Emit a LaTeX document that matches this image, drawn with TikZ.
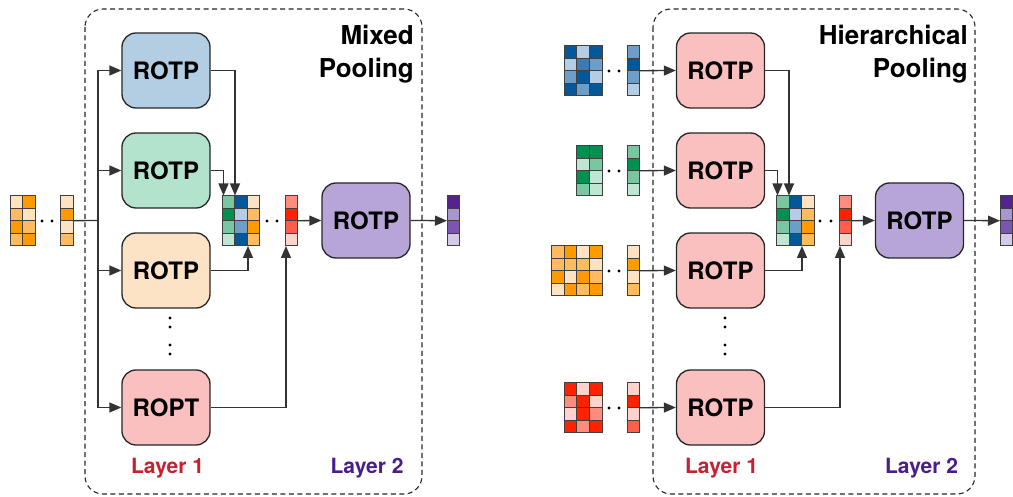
\documentclass[tikz,border=0pt]{standalone}
\usepackage{fontspec}
\setmainfont{TeX Gyre Heros}
\usetikzlibrary{arrows.meta}
\definecolor{cblue}{HTML}{B3CDE3}
\definecolor{cgreen}{HTML}{B3E2CD}
\definecolor{cpeach}{HTML}{FDE3C5}
\definecolor{cpink}{HTML}{FABFBF}
\definecolor{cpurple}{HTML}{B8A5D8}
\definecolor{O1}{HTML}{FEE3C3}
\definecolor{O2}{HTML}{FFBB5E}
\definecolor{O3}{HTML}{FF9A00}
\definecolor{G1}{HTML}{BFE5D3}
\definecolor{G2}{HTML}{78C7A0}
\definecolor{G3}{HTML}{00904F}
\definecolor{B1}{HTML}{B5CDE4}
\definecolor{B2}{HTML}{6D9ECA}
\definecolor{B3}{HTML}{3A7CB8}
\definecolor{B4}{HTML}{04589A}
\definecolor{R1}{HTML}{FFD3CC}
\definecolor{R2}{HTML}{FF8C7C}
\definecolor{R3}{HTML}{FF5E4A}
\definecolor{R4}{HTML}{FF2200}
\definecolor{P1}{HTML}{D5C9E8}
\definecolor{P2}{HTML}{A896D0}
\definecolor{P3}{HTML}{7B55B2}
\definecolor{P4}{HTML}{54238E}
\definecolor{linec}{HTML}{333333}
\definecolor{layred}{HTML}{C8202F}
\definecolor{laypurple}{HTML}{4A1D8C}
\newcommand\cw{12.6}
\newcommand\ch{12.6}
% name, x, y (top-left), ncols, colours row-major (4 rows)
\newcommand\drawmat[5]{%
  \node[inner sep=0pt, outer sep=0pt, minimum width={#4*\cw pt}, minimum height={4*\ch pt}, anchor=north west] (#1) at (#2,#3) {};
  \foreach \col [count=\k from 0] in {#5} {
    \pgfmathtruncatemacro\cx{mod(\k,#4)}
    \pgfmathtruncatemacro\cy{floor(\k/#4)}
    \filldraw[fill=\col, draw=black!75, line width=0.9pt] ({#2+\cx*\cw},{#3+\cy*\ch}) rectangle ++(\cw,\ch);
  }
}
\tikzset{
  box/.style={draw=black!85, line width=1.3pt, rounded corners=14pt, minimum width=88pt, minimum height=75pt, inner sep=0pt, font=\bfseries\fontsize{24}{28}\selectfont},
  conn/.style={draw=linec, line width=1.3pt},
  arr/.style={conn, -{Triangle[length=12pt,width=10pt]}},
  dotc/.style={fill=black, circle, inner sep=0pt, minimum size=3.3pt},
  title/.style={anchor=north east, align=right, inner sep=0pt, font=\bfseries\fontsize{26}{33}\selectfont},
  layer/.style={anchor=base, font=\bfseries\fontsize{21}{24}\selectfont, inner sep=0pt},
  panel/.style={draw=black!85, line width=1.1pt, dash pattern=on 5pt off 3.5pt, rounded corners=18pt}
}
\begin{document}
\begin{tikzpicture}[x=1pt,y=-1pt]
\useasboundingbox (0,0) rectangle (1013,497);
% ---------------- left panel ----------------
\draw[panel] (85,9) rectangle (422,494);
\node[title] (t1) at (414,25) {Mixed\\Pooling};
\node[box, fill=cblue] (a1) at (166,70.5) {ROTP};
\node[box, fill=cgreen] (a2) at (166,170.5) {ROTP};
\node[box, fill=cpeach] (a3) at (166,270.5) {ROTP};
\node[box, fill=cpink] (a4) at (166,407.5) {ROPT};
\node[box, fill=cpurple] (a5) at (366,220.5) {ROTP};
\node[dotc] (v1) at (170,318) {};
\node[dotc] (v2) at (170,327) {};
\node[dotc] (v3) at (170,345) {};
\node[dotc] (v3b) at (170,354) {};
\node[layer, text=layred] (l1) at (167.5,473.5) {Layer 1};
\node[layer, text=laypurple] (l2) at (367,473.5) {Layer 2};
\drawmat{in0}{10}{195.5}{2}{O1,O3,O2,O1,O3,O2,O2,O3}
\node[dotc] (d1) at (42,221) {};
\node[dotc] (d2) at (52,221) {};
\drawmat{ic0}{60.5}{195.5}{1}{O1,O3,O1,O2}
\coordinate (tr0) at (98,220.5);
\coordinate (tr1) at (98,70.5);
\coordinate (tr2) at (98,170.5);
\coordinate (tr3) at (98,270.5);
\coordinate (tr4) at (98,407.5);
\draw[conn] (ic0.east) -- (tr0);
\draw[conn] (tr1) -- (tr4);
\draw[arr] (tr1) -- (a1.west);
\draw[arr] (tr2) -- (a2.west);
\draw[arr] (tr3) -- (a3.west);
\draw[arr] (tr4) -- (a4.west);
\drawmat{m1}{222}{195.5}{3}{G2,B4,O1,G3,B1,O2,G2,B2,O3,G1,B4,O2}
\node[dotc] (d3) at (267,221) {};
\node[dotc] (d4) at (277,221) {};
\drawmat{c1}{285}{195.5}{1}{R2,R4,R3,R1}
\drawmat{o1}{447}{195.5}{1}{P4,P2,P3,P1}
\coordinate (m1a) at (223.5,195.5);
\coordinate (m1b) at (235,195.5);
\coordinate (m1c) at (248,246);
\coordinate (c1a) at (286,246);
\draw[arr] (a1.east) -| (m1b);
\draw[arr] (a2.east) -| (m1a);
\draw[arr] (a3.east) -| (m1c);
\draw[arr] (a4.east) -| (c1a);
\draw[arr] (c1.east) -- (a5.west);
\draw[arr] (a5.east) -- (o1.west);
% ---------------- right panel ----------------
\draw[panel] (653,9) rectangle (975,494);
\node[title] (t2) at (968,25) {Hierarchical\\Pooling};
\node[box, fill=cpink] (b1) at (720.5,70.5) {ROTP};
\node[box, fill=cpink] (b2) at (720.5,170.5) {ROTP};
\node[box, fill=cpink] (b3) at (720.5,270.5) {ROTP};
\node[box, fill=cpink] (b4) at (720.5,407.5) {ROTP};
\node[box, fill=cpurple] (b5) at (919.5,220.5) {ROTP};
\node[dotc] (v4) at (725,318) {};
\node[dotc] (v5) at (725,327) {};
\node[dotc] (v6) at (725,345) {};
\node[dotc] (v6b) at (725,354) {};
\node[layer, text=layred] (l3) at (721.5,473.5) {Layer 1};
\node[layer, text=laypurple] (l4) at (921.5,473.5) {Layer 2};
% inputs
\drawmat{x1}{564.2}{45.5}{3}{B4,B1,B4,B1,B3,B2,B2,B4,B1,B4,B2,B4}
\drawmat{y1}{627}{45.5}{1}{B2,B4,B2,B1}
\drawmat{x2}{576.8}{145.5}{2}{G3,G3,G1,G2,G3,G1,G2,G1}
\drawmat{y2}{627}{145.5}{1}{G2,G3,G2,G1}
\drawmat{x3}{551.6}{245.5}{4}{O2,O3,O1,O3,O2,O2,O2,O1,O3,O1,O3,O2,O1,O3,O2,O3}
\drawmat{y3}{627}{245.5}{1}{O1,O3,O1,O2}
\drawmat{x4}{564.2}{382.5}{3}{R4,R1,R4,R2,R4,R1,R1,R4,R2,R4,R2,R4}
\drawmat{y4}{627}{382.5}{1}{R1,R4,R1,R3}
\foreach \yy [count=\n] in {71,171,271,408} {
  \node[dotc] (e\n a) at (609,\yy) {};
  \node[dotc] (e\n b) at (619,\yy) {};
}
\draw[arr] (y1.east) -- (b1.west);
\draw[arr] (y2.east) -- (b2.west);
\draw[arr] (y3.east) -- (b3.west);
\draw[arr] (y4.east) -- (b4.west);
\drawmat{m2}{776.5}{195.5}{3}{G2,B4,O1,G3,B1,O2,G2,B2,O3,G1,B4,O2}
\node[dotc] (d5) at (820,221) {};
\node[dotc] (d6) at (831,221) {};
\drawmat{c2}{839}{195.5}{1}{R2,R4,R3,R1}
\drawmat{o2}{1000}{195.5}{1}{P4,P2,P3,P1}
\coordinate (m2a) at (777.5,195.5);
\coordinate (m2b) at (789,195.5);
\coordinate (m2c) at (802,246);
\coordinate (c2a) at (840,246);
\draw[arr] (b1.east) -| (m2b);
\draw[arr] (b2.east) -| (m2a);
\draw[arr] (b3.east) -| (m2c);
\draw[arr] (b4.east) -| (c2a);
\draw[arr] (c2.east) -- (b5.west);
\draw[arr] (b5.east) -- (o2.west);
\end{tikzpicture}
\end{document}
